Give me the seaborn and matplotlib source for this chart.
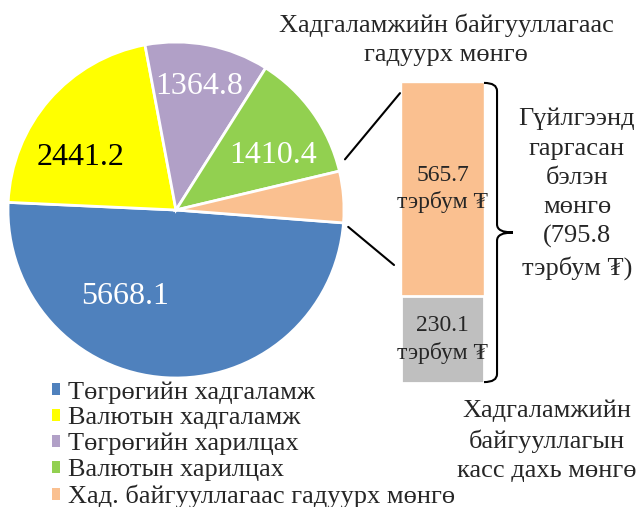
import matplotlib
matplotlib.use('Agg')
import matplotlib.pyplot as plt
import seaborn as sns
from matplotlib.patches import ConnectionPatch, PathPatch, Patch
from matplotlib.path import Path
import numpy as np

# Мөнгөний бүтэц (тэрбум төгрөг)
categories = ['Төгрөгийн хадгаламж', 'Валютын хадгаламж', 'Төгрөгийн харилцах',
              'Валютын харилцах', 'Хад. байгууллагаас гадуурх мөнгө']
values = [5668.1, 2441.2, 1364.8, 1410.4, 565.7]
colors = ['#4F81BD', '#FFFF00', '#B1A0C7', '#92D050', '#FAC090']
label_colors = ['white', 'black', 'white', 'white']
# байрлал (пай дээрх)
label_pos = [(-0.304, -0.515), (-0.571, 0.315), (0.137, 0.735), (0.577, 0.323)]

# бэлэн мөнгө
cash_names = ['Хад. байгууллагаас гадуурх мөнгө', 'Хадгаламжийн байгууллагын касс дахь мөнгө']
cash_values = [565.7, 230.1]
cash_colors = ['#FAC090', '#BFBFBF']

sns.set_theme(style='white')
plt.rcParams['font.family'] = ['Liberation Serif', 'DejaVu Serif']

W, H = 639, 507
fig = plt.figure(figsize=(W / 100, H / 100), dpi=100)

# PIE
ax = fig.add_axes([8 / W, 1 - 378 / H, 336 / W, 336 / H])
wedges, _ = ax.pie(values, colors=colors, startangle=-4.4, counterclock=False,
                   wedgeprops=dict(edgecolor='white', linewidth=2))
ax.set_xlim(-1, 1)
ax.set_ylim(-1, 1)
for v, c, (x, y) in zip(values, label_colors, label_pos):
    ax.text(x, y, f'{v:.1f}', color=c, ha='center', va='center', fontsize=23)

# BAR (бэлэн мөнгө)
bx = fig.add_axes([401 / W, 1 - 383 / H, 83 / W, 301 / H])
cash_total = sum(cash_values)
sns.barplot(x=[0], y=[cash_total], color=cash_colors[0], width=1, saturation=1, ax=bx)
sns.barplot(x=[0], y=[cash_values[1]], color=cash_colors[1], width=1, saturation=1,
            edgecolor='white', linewidth=2, ax=bx)
bx.set_xlim(-0.5, 0.5)
bx.set_ylim(0, cash_total)
bx.axis('off')
bx.text(0, cash_values[1] + cash_values[0] / 2, f'{cash_values[0]:.1f}\nтэрбум ₮',
        ha='center', va='center', fontsize=17, linespacing=1.3)
bx.text(0, cash_values[1] / 2, f'{cash_values[1]:.1f}\nтэрбум ₮',
        ha='center', va='center', fontsize=17, linespacing=1.3)

# холбох шугам
w = wedges[-1]
for ang, r, xyB in [(w.theta2 + 3.3, 1.05, (-0.012, 0.963)), (w.theta1 - 1.2, 1.03, (-0.084, 0.392))]:
    xyA = (r * np.cos(np.radians(ang)), r * np.sin(np.radians(ang)))
    con = ConnectionPatch(xyA=xyA, coordsA=ax.transData, xyB=xyB, coordsB=bx.transAxes,
                          color='black', lw=1.5)
    fig.add_artist(con)

# хаалт
x0, xs, xt = 1.0, 1.157, 1.349
d = 0.027
verts = [(x0, 0.997), (xs, 0.997), (xs, 0.997 - d),
         (xs, 0.5 + d),
         (xs, 0.5), (xt, 0.5),
         (xs, 0.5), (xs, 0.5 - d),
         (xs, 0.003 + d),
         (xs, 0.003), (x0, 0.003)]
codes = [Path.MOVETO, Path.CURVE3, Path.CURVE3, Path.LINETO, Path.CURVE3, Path.CURVE3,
         Path.CURVE3, Path.CURVE3, Path.LINETO, Path.CURVE3, Path.CURVE3]
bx.add_patch(PathPatch(Path(verts, codes), fill=False, edgecolor='black', lw=1.5,
                       transform=bx.transAxes, clip_on=False))

# тайлбар текст
fig.text(446 / W, 1 - 40 / H, 'Хадгаламжийн байгууллагаас\nгадуурх мөнгө',
         ha='center', va='center', fontsize=19, linespacing=1.42)
fig.text(577 / W, 1 - 194 / H, f'Гүйлгээнд\nгаргасан\nбэлэн\nмөнгө\n({cash_total:.1f}\nтэрбум ₮)',
         ha='center', va='center', fontsize=19, linespacing=1.42)
fig.text(547 / W, 1 - 441 / H, 'Хадгаламжийн\nбайгууллагын\nкасс дахь мөнгө',
         ha='center', va='center', fontsize=19, linespacing=1.42)

handles = [Patch(facecolor=c, edgecolor='none') for c in colors]
fig.legend(handles, categories, loc='upper left', bbox_to_anchor=(52 / W, 1 - 381 / H),
           bbox_transform=fig.transFigure, frameon=False, fontsize=19,
           handlelength=0.32, handleheight=0.32, handletextpad=0.3,
           labelspacing=0.14, borderpad=0, borderaxespad=0)

fig.savefig('out.png', dpi=100)
